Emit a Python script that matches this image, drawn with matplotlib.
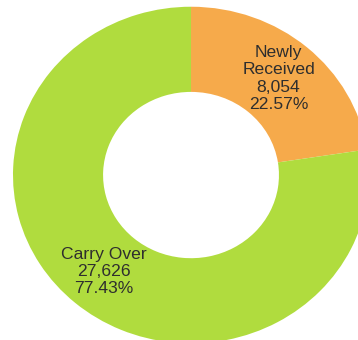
import numpy as np
import matplotlib.pyplot as plt

# case counts
categories = ["Newly\nReceived", "Carry Over"]
counts = [8054, 27626]
colors = ["#f6aa4b", "#b0dc3e"]

plt.rcParams['font.family'] = ['Liberation Sans', 'DejaVu Sans']

fig = plt.figure(figsize=(3.58, 3.40), dpi=100)
ax = fig.add_axes([0, 0, 1, 1])

total = sum(counts)

wedges, _ = ax.pie(counts, colors=colors, startangle=90, counterclock=False,
                   radius=1.0, wedgeprops=dict(width=0.506, linewidth=0))

# labels placed at the middle of the ring for each slice
for w, cat, n in zip(wedges, categories, counts):
    mid = np.deg2rad((w.theta1 + w.theta2) / 2)
    r = 0.755
    ax.text(r * np.cos(mid), r * np.sin(mid),
            f"{cat}\n{n:,}\n{n / total * 100:.2f}%",
            ha="center", va="center", fontsize=12.6, color="#2e2e2e",
            linespacing=1.2)

ax.set_aspect('auto')
ax.set_xlim(-1.073, 0.938)
ax.set_ylim(-0.98, 1.04)
ax.axis('off')

fig.savefig("out.png", dpi=100)
